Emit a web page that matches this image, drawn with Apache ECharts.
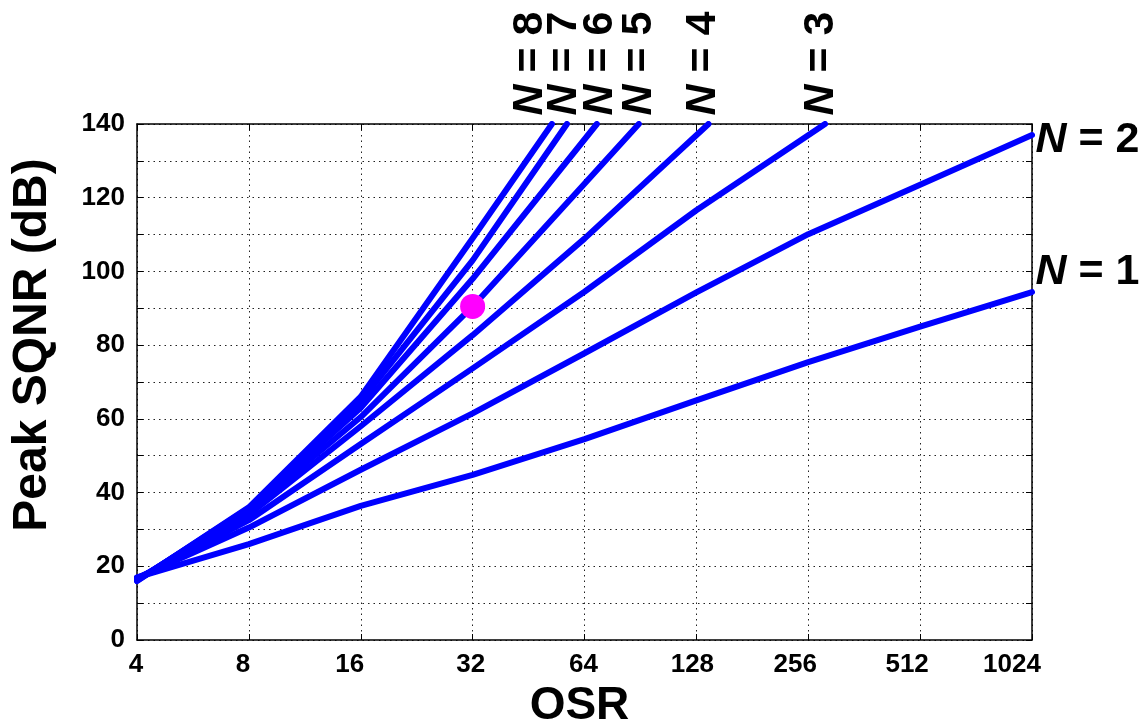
<!DOCTYPE html>
<html>
<head>
<meta charset="utf-8">
<script src="https://cdn.jsdelivr.net/npm/echarts@6/dist/echarts.min.js"></script>
<style>
html,body{margin:0;padding:0;background:#fff;}
#c{width:1146px;height:719px;}
</style>
</head>
<body>
<div id="c"></div>
<script>
// OSR values (octaves) at which SQNR was read
const osr = [4, 8, 16, 32, 64, 128, 256, 512, 1024];
// Peak SQNR (dB) per modulator order N, read at the OSR octaves above
const sqnrN1 = [17.0, 26.0, 36.4, 44.8, 54.5, 65.0, 75.4, 85.0, 94.4];
const sqnrN2 = [16.8, 30.5, 46.2, 61.5, 77.8, 94.3, 110.1, 123.5, 137.0];
const sqnrN3 = [16.6, 32.5, 53.2, 73.7, 94.5, 116.6];
const sqnrN4 = [16.4, 34.0, 58.0, 82.7, 108.9];
const sqnrN5 = [16.3, 35.0, 60.5, 90.5, 123.8];
const sqnrN6 = [16.2, 35.5, 63.0, 98.0];
const sqnrN7 = [16.1, 35.8, 64.8, 103.0];
const sqnrN8 = [16.0, 36.0, 66.0, 109.0];
// OSR at which each curve reaches the top of the plot (null = stays inside)
const endOSR = [null, null, 284, 138, 89.6, 69.1, 57.4, 52.3];
const topSQNR = 140;
// Highlighted design point
const markOSR = 32;
const markSQNR = 90.5;
// Axis ticks
const xTicks = [4, 8, 16, 32, 64, 128, 256, 512, 1024];
const yTickLabels = [0, 20, 40, 60, 80, 100, 120, 140];

const orders = [1, 2, 3, 4, 5, 6, 7, 8];
const allSqnr = [sqnrN1, sqnrN2, sqnrN3, sqnrN4, sqnrN5, sqnrN6, sqnrN7, sqnrN8];

const FONT = "'Liberation Sans', Arial, Helvetica, sans-serif";
const BLUE = '#0000ff';

const lineSeries = orders.map((n, k) => {
  const pts = allSqnr[k].map((v, i) => [osr[i], v]);
  if (endOSR[k] != null) pts.push([endOSR[k], topSQNR]);
  return {
    name: 'N = ' + n,
    type: 'line',
    data: pts,
    symbol: 'none',
    lineStyle: { color: BLUE, width: 6, cap: 'round', join: 'round' },
    itemStyle: { color: BLUE },
    clip: true,
    z: 3,
    silent: true
  };
});

// label placement tweaks (pixels, screen-horizontal) for the rotated labels
const topOffsets = { 3: -4, 4: -5, 5: 0, 6: 3, 7: -3, 8: -22 };
const LFS = 43;
const rich = {
  i: { fontStyle: 'italic', fontWeight: 'bold', fontSize: LFS, fontFamily: FONT, color: '#000', opacity: 1 },
  t: { fontWeight: 'bold', fontSize: LFS, fontFamily: FONT, color: '#000', opacity: 1 }
};
const labelData = orders.map((n, k) => {
  const pts = lineSeries[k].data;
  const last = pts[pts.length - 1];
  if (endOSR[k] != null) {
    return {
      value: last,
      label: {
        show: true,
        color: '#000',
        formatter: '{i|N}{t| = ' + n + '}',
        rich: rich,
        position: 'top',
        distance: 8,
        rotate: 90,
        align: 'left',
        verticalAlign: 'middle',
        offset: [0, topOffsets[n]]
      }
    };
  }
  return {
    value: last,
    label: {
      show: true,
      color: '#000',
      formatter: '{i|N}{t| = ' + n + '}',
      rich: rich,
      position: 'right',
      distance: 3,
      align: 'left',
      verticalAlign: 'middle',
      offset: [0, n === 1 ? -20 : 5]
    }
  };
});

// small horizontal nudges of the x tick labels, as in the reference
const xLabelShift = { 4: -1, 8: -6, 16: -11, 32: -2, 64: -1, 128: -4, 256: -13, 512: -13, 1024: -20 };
const xRich = {};
Object.keys(xLabelShift).forEach(k => {
  const s = xLabelShift[k];
  xRich['x' + k] = {
    fontFamily: FONT, fontWeight: 'bold', fontSize: 26, color: '#000',
    padding: s < 0 ? [0, -2 * s, 0, 0] : [0, 0, 0, 2 * s]
  };
});

const chart = echarts.init(document.getElementById('c'), null, { renderer: 'canvas' });

const gridLine = { show: true, lineStyle: { color: '#222', width: 1, type: [1.5, 4] } };

chart.setOption({
  animation: false,
  backgroundColor: '#fff',
  grid: { left: 137, right: 114, top: 124, bottom: 79, containLabel: false, outerBoundsMode: 'none' },
  xAxis: [
    {
      type: 'log', logBase: 2, min: xTicks[0], max: xTicks[xTicks.length - 1], interval: 1,
      name: 'OSR', nameLocation: 'middle', nameGap: 43,
      nameTextStyle: { fontFamily: FONT, fontWeight: 'bold', fontSize: 46, color: '#000', padding: [0, 10, 0, 0] },
      axisLine: { show: true, onZero: false, lineStyle: { color: '#000', width: 1.5 } },
      axisTick: { show: true, inside: true, length: 6, lineStyle: { color: '#000' } },
      axisLabel: {
        show: true, margin: 12, fontFamily: FONT, fontWeight: 'bold', fontSize: 26, color: '#000',
        formatter: v => { const r = Math.round(v); return xRich['x' + r] ? '{x' + r + '|' + r + '}' : String(r); },
        rich: xRich
      },
      splitLine: gridLine,
      minorTick: { show: false }
    },
    {
      type: 'log', logBase: 2, min: xTicks[0], max: xTicks[xTicks.length - 1], interval: 1,
      position: 'top',
      axisLine: { show: true, onZero: false, lineStyle: { color: '#000', width: 1.5 } },
      axisTick: { show: true, inside: true, length: 6, lineStyle: { color: '#000' } },
      axisLabel: { show: false },
      splitLine: { show: false }
    }
  ],
  yAxis: [
    {
      type: 'value', min: 0, max: 140, interval: 10,
      name: 'Peak SQNR (dB)', nameLocation: 'middle', nameGap: 80, nameRotate: 90,
      nameTextStyle: { fontFamily: FONT, fontWeight: 'bold', fontSize: 48, color: '#000', padding: [0, 0, 0, 74] },
      axisLine: { show: true, onZero: false, lineStyle: { color: '#000', width: 1.5 } },
      axisTick: { show: true, inside: true, length: 6, lineStyle: { color: '#000' } },
      axisLabel: {
        show: true, margin: 12, fontFamily: FONT, fontWeight: 'bold', fontSize: 26, color: '#000',
        padding: [0, 0, 8, 0],
        formatter: v => (yTickLabels.indexOf(Math.round(v)) >= 0 ? String(Math.round(v)) : '')
      },
      splitLine: gridLine
    },
    {
      type: 'value', min: 0, max: 140, interval: 10, position: 'right',
      axisLine: { show: true, onZero: false, lineStyle: { color: '#000', width: 1.5 } },
      axisTick: { show: true, inside: true, length: 6, lineStyle: { color: '#000' } },
      axisLabel: { show: false },
      splitLine: { show: false }
    }
  ],
  series: lineSeries.concat([
    {
      name: 'design point',
      type: 'scatter',
      data: [[markOSR, markSQNR]],
      symbol: 'circle',
      symbolSize: 25,
      itemStyle: { color: '#ff00ff', opacity: 1 },
      z: 5,
      silent: true
    },
    {
      name: 'labels',
      type: 'scatter',
      data: labelData,
      symbol: 'circle',
      symbolSize: 1,
      itemStyle: { color: 'rgba(0,0,0,0)', opacity: 1 },
      z: 6,
      silent: true
    }
  ])
});
</script>
</body>
</html>
